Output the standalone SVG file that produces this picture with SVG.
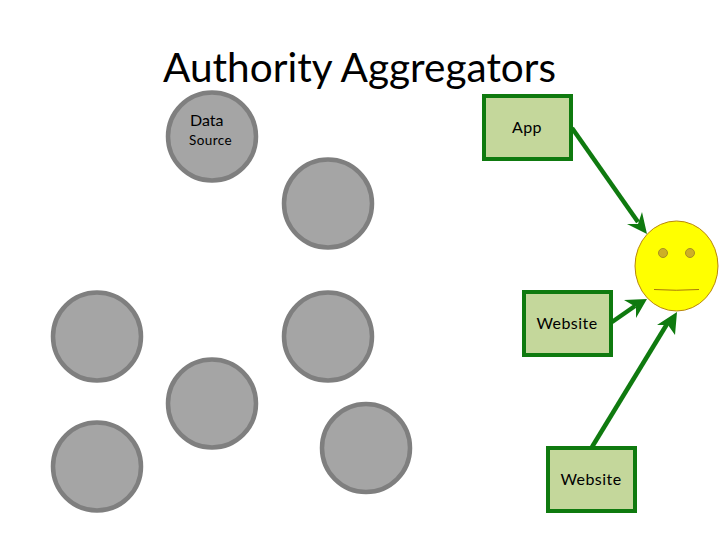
<svg xmlns="http://www.w3.org/2000/svg" width="720" height="540" viewBox="0 0 720 540">
<style>
text{font-family:"Lato","Open Sans","Liberation Sans",sans-serif;fill:#000}
.t{font-size:16px;text-anchor:middle;letter-spacing:.45px}
.c{fill:#a5a5a5;stroke:#7f7f7f;stroke-width:4.5}
.b{fill:#c4d79b;stroke:#0f7a0f;stroke-width:4}
.l{stroke:#0f7a0f;stroke-width:4.5;fill:none}
.h{fill:#0f7a0f}
</style>
<rect width="720" height="540" fill="#fff"/>
<text id="title" x="359.500" y="82" font-size="41" text-anchor="middle" textLength="393" lengthAdjust="spacingAndGlyphs">Authority Aggregators</text>
<g id="source"><circle class="c" cx="212" cy="136.500" r="44"/><text x="190" y="126" font-size="16">Data</text><text x="189" y="145" font-size="13.500" letter-spacing=".4">Source</text></g>
<g id="n2"><circle class="c" cx="328" cy="203.500" r="44"/></g>
<g id="n3"><circle class="c" cx="97" cy="336.500" r="44"/></g>
<g id="n4"><circle class="c" cx="328" cy="336.500" r="44"/></g>
<g id="n5"><circle class="c" cx="212" cy="403.500" r="44"/></g>
<g id="n6"><circle class="c" cx="97" cy="466.500" r="44"/></g>
<g id="n7"><circle class="c" cx="366" cy="448" r="44"/></g>
<g id="app"><rect class="b" x="484" y="96" width="87" height="63"/><text class="t" x="527" y="133">App</text></g>
<g id="web1"><rect class="b" x="524" y="292" width="87" height="63"/><text class="t" x="567" y="329">Website</text></g>
<g id="web2"><rect class="b" x="548" y="448" width="87" height="63"/><text class="t" x="591" y="485">Website</text></g>
<g id="face">
<ellipse cx="676.500" cy="266" rx="41.500" ry="45" fill="#ffff00" stroke="#b8860b" stroke-width="1"/>
<circle cx="663" cy="253" r="4.500" fill="#cdb027" stroke="#a89020" stroke-width="1"/>
<circle cx="690" cy="253" r="4.500" fill="#cdb027" stroke="#a89020" stroke-width="1"/>
<path d="M654 289.500Q676 291 699 289.500" fill="none" stroke="#a9790b" stroke-width="1"/>
</g>
<g id="connectors">
<path class="l" d="M572 128L638 222"/><path class="h" d="M647 234L627 224L638 224L642 212Z"/>
<path class="l" d="M612 322L635 306"/><path class="h" d="M647 299L636 318L636 307L624 300Z"/>
<path class="l" d="M592 447L667 324"/><path class="h" d="M677 312L675 335L668 325L657 325Z"/>
</g>
</svg>
